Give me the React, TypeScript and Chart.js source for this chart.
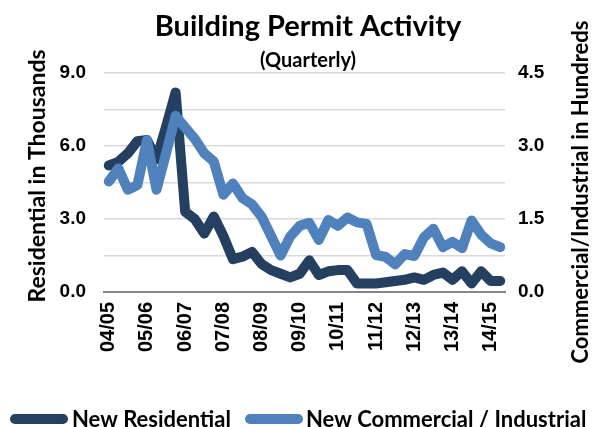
import React, { useEffect, useRef } from 'react';
import { Chart, registerables } from 'chart.js';

Chart.register(...registerables);

// Fiscal years shown on the category axis (one label every 4 quarters)
const fiscalYears = ['04/05', '05/06', '06/07', '07/08', '08/09', '09/10', '10/11', '11/12', '12/13', '13/14', '14/15'];
const quarterNames = ['Q1', 'Q2', 'Q3', 'Q4'];
// 42 quarterly categories
const categories = fiscalYears.flatMap((fy) => quarterNames.map((q) => `${fy} ${q}`)).slice(0, 42);

// New Residential permits (thousands) - left axis
const residential = [
  5.2, 5.35, 5.7, 6.2, 6.25, 5.45, 6.8, 8.2, 3.3, 3.0,
  2.4, 3.1, 2.3, 1.35, 1.45, 1.65, 1.15, 0.9, 0.75, 0.6,
  0.75, 1.3, 0.7, 0.85, 0.9, 0.9, 0.35, 0.35, 0.35, 0.4,
  0.45, 0.5, 0.6, 0.5, 0.7, 0.8, 0.5, 0.85, 0.35, 0.85,
  0.45, 0.45,
];

// New Commercial / Industrial permits (hundreds) - right axis
const commercial = [
  2.27, 2.54, 2.1, 2.2, 3.12, 2.1, 2.85, 3.62, 3.38, 3.15,
  2.85, 2.68, 2.0, 2.23, 1.93, 1.8, 1.55, 1.15, 0.75, 1.14,
  1.36, 1.42, 1.07, 1.48, 1.36, 1.53, 1.43, 1.4, 0.76, 0.72,
  0.57, 0.78, 0.74, 1.12, 1.3, 0.92, 1.03, 0.9, 1.47, 1.18,
  1.0, 0.92,
];

const leftMax = 9;
const leftStep = 1.5;
const leftLabelEvery = 3;
const rightMax = 4.5;
const rightStep = 1.5;

const titleText = 'Building Permit Activity';
const subtitleText = '(Quarterly)';
const leftTitle = 'Residential in Thousands';
const rightTitle = 'Commercial/Industrial in Hundreds';

const DARK = '#243F60';
const LIGHT = '#4F81BD';

const textPlugin = {
  id: 'customTexts',
  afterDraw(chart: any) {
    const ctx = chart.ctx as CanvasRenderingContext2D;
    ctx.save();
    ctx.fillStyle = '#000';
    ctx.textAlign = 'center';
    ctx.textBaseline = 'middle';
    ctx.font = 'bold 29px Lato';
    ctx.fillText(titleText, 308, 27);
    ctx.font = 'bold 20px Lato';
    ctx.fillText(subtitleText, 308, 61);

    ctx.font = 'bold 23px Lato';
    ctx.save();
    ctx.translate(38, 176);
    ctx.rotate(-Math.PI / 2);
    ctx.fillText(leftTitle, 0, 0);
    ctx.restore();

    ctx.font = 'bold 22px Lato';
    ctx.save();
    ctx.translate(581, 192);
    ctx.rotate(-Math.PI / 2);
    ctx.fillText(rightTitle, 0, 0);
    ctx.restore();

    // legend
    const ds = chart.data.datasets;
    const items = [
      { x: 10, tx: 72, ds: ds[0] },
      { x: 245, tx: 306, ds: ds[1] },
    ];
    ctx.font = 'bold 22px Lato';
    ctx.textAlign = 'left';
    for (const it of items) {
      ctx.strokeStyle = it.ds.borderColor;
      ctx.lineWidth = 10;
      ctx.lineCap = 'round';
      ctx.beginPath();
      ctx.moveTo(it.x + 5, 419);
      ctx.lineTo(it.x + 53, 419);
      ctx.stroke();
      ctx.fillStyle = '#000';
      ctx.fillText(it.ds.label, it.tx, 420);
    }
    ctx.restore();
  },
};

export default function App() {
  const ref = useRef<HTMLCanvasElement | null>(null);
  useEffect(() => {
    if (!ref.current) return;
    const tickFont = { family: 'Liberation Sans', size: 19, weight: 'bold' as const };
    const xTickFont = { family: 'Liberation Sans', size: 20, weight: 'bold' as const };
    const chart = new Chart(ref.current, {
      type: 'line',
      data: {
        labels: categories,
        datasets: [
          {
            label: 'New Residential',
            data: residential,
            borderColor: DARK,
            backgroundColor: DARK,
            borderWidth: 10,
            pointRadius: 0,
            tension: 0,
            borderJoinStyle: 'round',
            borderCapStyle: 'round',
            yAxisID: 'y',
            order: 2,
          },
          {
            label: 'New Commercial / Industrial',
            data: commercial,
            borderColor: LIGHT,
            backgroundColor: LIGHT,
            borderWidth: 10,
            pointRadius: 0,
            tension: 0,
            borderJoinStyle: 'round',
            borderCapStyle: 'round',
            yAxisID: 'y1',
            order: 1,
          },
        ],
      },
      options: {
        animation: false,
        responsive: false,
        devicePixelRatio: 1,
        layout: { padding: { top: 73, bottom: 65, left: 0, right: 0 } },
        plugins: {
          legend: { display: false },
          title: { display: false },
          tooltip: { enabled: false },
        },
        scales: {
          x: {
            offset: true,
            grid: { display: false, drawTicks: false },
            border: { display: true, color: '#868686', width: 2 },
            ticks: {
              autoSkip: false,
              maxRotation: 90,
              minRotation: 90,
              padding: 10,
              color: '#000',
              font: xTickFont,
              callback: (_v: any, i: number) => (i % 4 === 0 ? fiscalYears[i / 4] : ''),
            },
            afterFit: (s: any) => {
              s.height = 70;
            },
          },
          y: {
            position: 'left',
            min: 0,
            max: leftMax,
            grid: { color: '#d9d9d9', lineWidth: 1.5, drawTicks: false },
            border: { display: false },
            ticks: {
              stepSize: leftStep,
              padding: 18,
              color: '#000',
              font: tickFont,
              callback: (v: any) => (Math.abs(v % leftLabelEvery) < 1e-6 ? Number(v).toFixed(1) : ''),
            },
            afterFit: (s: any) => {
              s.width = 104;
            },
          },
          y1: {
            position: 'right',
            min: 0,
            max: rightMax,
            grid: { display: false, drawTicks: false },
            border: { display: false },
            ticks: {
              stepSize: rightStep,
              padding: 13,
              color: '#000',
              font: tickFont,
              callback: (v: any) => Number(v).toFixed(1),
            },
            afterFit: (s: any) => {
              s.width = 87;
            },
          },
        },
      },
      plugins: [textPlugin],
    });
    return () => chart.destroy();
  }, []);
  return (
    <div style={{ position: 'fixed', left: 0, top: 0, width: 592, height: 427, background: '#fff' }}>
      <canvas ref={ref} width={592} height={427} style={{ display: 'block' }} />
    </div>
  );
}
